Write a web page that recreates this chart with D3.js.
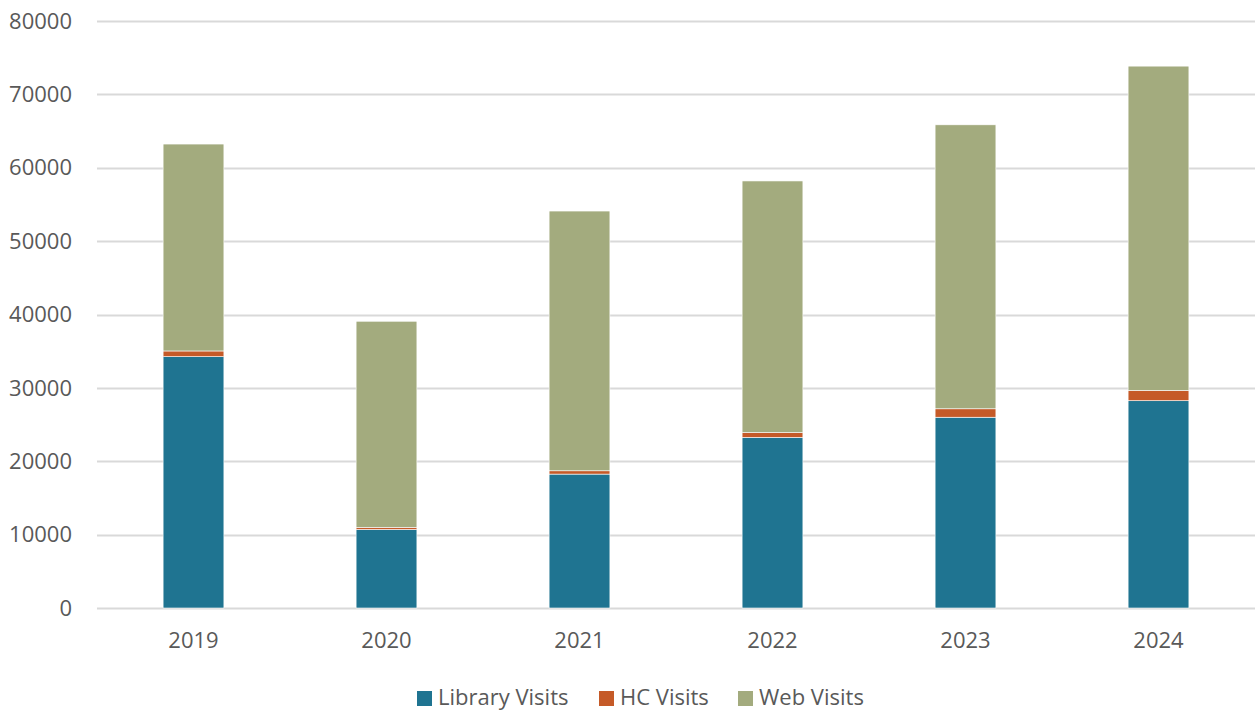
<!DOCTYPE html>
<html lang="en">
<head>
<meta charset="UTF-8">
<title>Visits by year</title>
<script src="https://cdn.jsdelivr.net/npm/d3@7"></script>
<style>
	body { margin: 0; background: #fff; }
	text { font-family: "Open Sans", "Noto Sans", sans-serif; fill: #595959; }
</style>
</head>
<body>
<div id="chart"></div>
<script>
	var years = ["2019", "2020", "2021", "2022", "2023", "2024"];
	var libraryVisits = [34250, 10700, 18250, 23250, 26000, 28250];
	var hcVisits = [780, 280, 450, 650, 1150, 1400];
	var webVisits = [28200, 28100, 35400, 34300, 38700, 44200];
	var seriesNames = ["Library Visits", "HC Visits", "Web Visits"];
	var seriesColors = ["#1f7491", "#c55a28", "#a3ab7e"];
	var yTicks = [0, 10000, 20000, 30000, 40000, 50000, 60000, 70000, 80000];

	var width = 1255, height = 712;
	var plotLeft = 97, plotRight = 1255, plotTop = 21, plotBottom = 608;

	var rows = years.map(function(y, i) {
		return { year: y, "Library Visits": libraryVisits[i], "HC Visits": hcVisits[i], "Web Visits": webVisits[i] };
	});
	var stacked = d3.stack().keys(seriesNames)(rows);

	var svg = d3.select("#chart").append("svg")
		.attr("width", width)
		.attr("height", height);

	var x = d3.scaleBand().domain(years).range([plotLeft, plotRight]).paddingInner(0.685).paddingOuter(0.3425);
	var y = d3.scaleLinear().domain([0, 80000]).range([plotBottom, plotTop]);

	// gridlines
	svg.append("g").selectAll("line").data(yTicks).enter().append("line")
		.attr("x1", plotLeft).attr("x2", plotRight)
		.attr("y1", function(d){ return Math.round(y(d)) + 0.5; })
		.attr("y2", function(d){ return Math.round(y(d)) + 0.5; })
		.attr("stroke", "#d9d9d9")
		.attr("stroke-width", 2);

	// y labels
	svg.append("g").selectAll("text").data(yTicks).enter().append("text")
		.attr("x", 72)
		.attr("y", function(d){ return y(d); })
		.attr("dy", "0.35em")
		.attr("text-anchor", "end")
		.style("font-size", "22px")
		.text(function(d){ return d; });

	// bars
	svg.append("g").selectAll("g").data(stacked).enter().append("g")
		.attr("fill", function(d, i){ return seriesColors[i]; })
		.selectAll("rect").data(function(d){ return d; }).enter().append("rect")
			.attr("x", function(d){ return x(d.data.year); })
			.attr("width", x.bandwidth())
			.attr("y", function(d){ return y(d[1]); })
			.attr("height", function(d){ return y(d[0]) - y(d[1]); })
			.attr("stroke", "#fff")
			.attr("stroke-width", 0.6);

	// x labels
	svg.append("g").selectAll("text").data(years).enter().append("text")
		.attr("x", function(d){ return x(d) + x.bandwidth() / 2; })
		.attr("y", 640)
		.attr("dy", "0.35em")
		.attr("text-anchor", "middle")
		.style("font-size", "22px")
		.text(function(d){ return d; });

	// legend
	var legendX = [417, 599, 738];
	var legend = svg.append("g").selectAll("g").data(seriesNames).enter().append("g")
		.attr("transform", function(d, i){ return "translate(" + legendX[i] + ",691)"; });
	legend.append("rect")
		.attr("width", 15).attr("height", 15)
		.attr("fill", function(d, i){ return seriesColors[i]; });
	legend.append("text")
		.attr("x", 21).attr("y", 6)
		.attr("dy", "0.35em")
		.style("font-size", "22px")
		.text(function(d){ return d; });
</script>
</body>
</html>
